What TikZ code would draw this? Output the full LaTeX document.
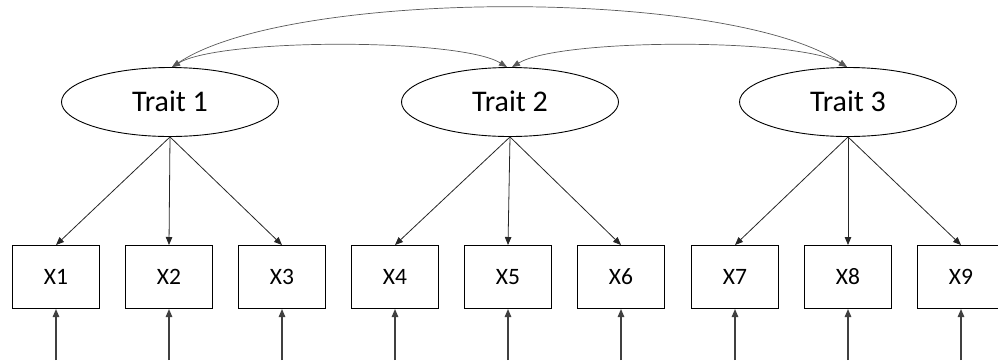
\documentclass[tikz,border=0pt]{standalone}
\usepackage{fontspec}
\setmainfont{Carlito}
\usetikzlibrary{arrows.meta,shapes.geometric}
\begin{document}
\begin{tikzpicture}[x=1pt,y=-1pt,
  trait/.style={draw,line width=0.9pt,ellipse,minimum width=217pt,minimum height=69pt,inner sep=0pt,text height=19pt,text depth=0pt,font=\fontsize{30}{32}\selectfont},
  obs/.style={draw,line width=1pt,rectangle,minimum width=87pt,minimum height=63pt,inner sep=0pt,text height=15pt,text depth=0pt,font=\fontsize{23.5}{25}\selectfont},
  load/.style={-{Triangle[length=8pt,width=6.5pt]},line width=0.8pt,draw=black!85},
  err/.style={-{Triangle[length=8pt,width=6.5pt]},line width=1.3pt,draw=black!75},
  cov/.style={{Triangle[length=8pt,width=6pt]}-{Triangle[length=8pt,width=6pt]},line width=0.7pt,draw=black!65}]
  \useasboundingbox (0,0) rectangle (998,360);

  % latent traits
  \node[trait] (t1) at (170,102) {Trait 1};
  \node[trait] (t2) at (510,102) {Trait 2};
  \node[trait] (t3) at (848,102) {Trait 3};

  % observed indicators
  \foreach \i/\xx in {1/56,2/169,3/282,4/395,5/508,6/621,7/735,8/848,9/961}{
    \node[obs] (x\i) at (\xx,277) {X\i};
    \coordinate (e\i) at (\xx,360);
    \draw[err] (e\i) -- (x\i.south);
  }

  % factor loadings
  \foreach \t/\a/\b/\c in {t1/1/2/3,t2/4/5/6,t3/7/8/9}{
    \draw[load] (\t.south) -- (x\a.north);
    \draw[load] (\t.south) -- (x\b.north);
    \draw[load] (\t.south) -- (x\c.north);
  }

  % trait covariances
  \draw[cov] ([xshift=2pt]t1.north) .. controls (220,38) and (460,38) .. ([xshift=-3pt]t2.north);
  \draw[cov] ([xshift=2pt]t2.north) .. controls (560,38) and (800,38) .. ([xshift=-1pt]t3.north);
  \draw[cov] ([xshift=2pt]t1.north) .. controls (290,-12) and (730,-12) .. ([xshift=-1pt]t3.north);
\end{tikzpicture}
\end{document}
